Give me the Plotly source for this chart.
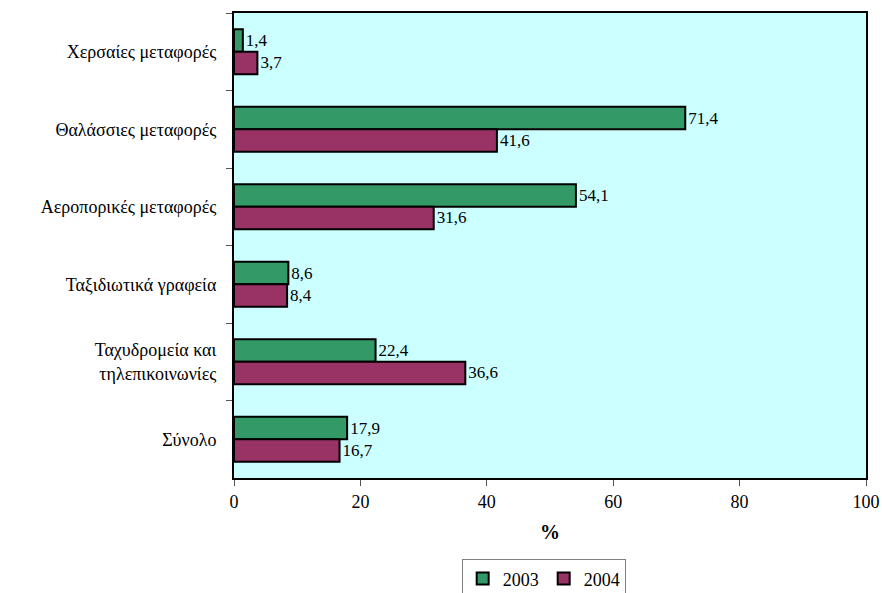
import plotly.graph_objects as go

categories = ["Χερσαίες μεταφορές", "Θαλάσσιες μεταφορές", "Αεροπορικές μεταφορές",
              "Ταξιδιωτικά γραφεία", "Ταχυδρομεία και<br>τηλεπικοινωνίες", "Σύνολο"]
v2003 = [1.4, 71.4, 54.1, 8.6, 22.4, 17.9]
v2004 = [3.7, 41.6, 31.6, 8.4, 36.6, 16.7]
x_ticks = [0, 20, 40, 60, 80, 100]

serif = '"Liberation Serif", "DejaVu Serif", "Times New Roman", serif'
font = dict(family=serif, size=17, color="black")

fig = go.Figure()
fig.add_trace(go.Bar(y=categories, x=v2003, name="2003", orientation="h",
                     marker=dict(color="#339966", line=dict(color="black", width=2)),
                     texttemplate="%{x:.1f}", textposition="outside", cliponaxis=False,
                     textfont=font))
fig.add_trace(go.Bar(y=categories, x=v2004, name="2004", orientation="h",
                     marker=dict(color="#993366", line=dict(color="black", width=2)),
                     texttemplate="%{x:.1f}", textposition="outside", cliponaxis=False,
                     textfont=font))

fig.update_layout(
    width=882, height=593,
    margin=dict(l=234, r=16, t=13, b=115, autoexpand=False),
    barmode="group", bargap=0.42, bargroupgap=0,
    separators=", ",
    font=font,
    paper_bgcolor="white", plot_bgcolor="#CCFFFF",
    showlegend=True,
    legend=dict(orientation="h", x=0.49, xanchor="center", y=-0.175, yanchor="top",
                bordercolor="#808080", borderwidth=1, font=dict(family=serif, size=18),
                itemwidth=30, traceorder="normal", tracegroupgap=0),
    xaxis=dict(range=[0, 100], tickvals=x_ticks, showgrid=False, zeroline=False,
               showline=True, linecolor="black", linewidth=2, mirror=True,
               ticks="outside", ticklen=6, tickcolor="#555555", automargin=False,
               title=dict(text="<b>%</b>", standoff=14), tickfont=dict(family=serif, size=18)),
    yaxis=dict(autorange="reversed", showgrid=False, showline=True, linecolor="black",
               linewidth=2, mirror=True, ticks="outside", ticklen=6, tickcolor="#555555",
               tickson="boundaries", ticklabelstandoff=12, automargin=False,
               tickfont=dict(family=serif, size=18)),
)

# drop the default body margin so the figure sits at the window's corner
fig.write_html("out.html", config={"displayModeBar": False},
               post_script="document.body.style.margin='0';document.body.style.overflow='hidden';")
